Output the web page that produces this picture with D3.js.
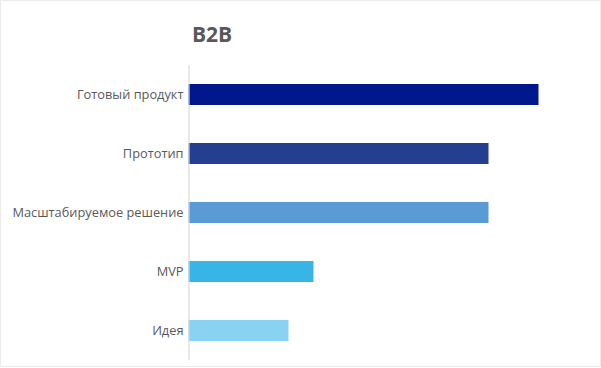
<!DOCTYPE html>
<html>
<head>
<meta charset="utf-8">
<script src="https://cdn.jsdelivr.net/npm/d3@7"></script>
<style>
  html, body { margin: 0; padding: 0; background: #fff; }
  svg { display: block; }
  text { font-family: "Open Sans", "Noto Sans", sans-serif; fill: #595959; }
</style>
</head>
<body>
<div id="chart"></div>
<script>
// data, top to bottom
var categories = ['Готовый продукт', 'Прототип', 'Масштабируемое решение', 'MVP', 'Идея'];
var values = [14, 12, 12, 5, 4];
var colors = ['#00188c', '#243f8f', '#5b9bd5', '#37b5e6', '#89d2f1'];
var title = 'B2B';

var W = 601, H = 368;
var svg = d3.select('#chart').append('svg')
    .attr('width', W).attr('height', H);

// faint outer frame
svg.append('rect')
    .attr('x', 0.5).attr('y', 0.5)
    .attr('width', W - 1).attr('height', H - 2)
    .attr('fill', 'none').attr('stroke', '#ebebeb');

var x = d3.scaleLinear().domain([0, 16]).range([188.5, 588.5]);
var y = d3.scaleBand().domain(categories).range([65, 360]).paddingInner(0.644).paddingOuter(0.322);

svg.append('text')
    .attr('x', 192).attr('y', 42)
    .style('font-size', '21px').style('font-weight', 'bold')
    .text(title);

svg.selectAll('rect.bar')
    .data(categories)
    .enter().append('rect')
    .attr('class', 'bar')
    .attr('x', x(0))
    .attr('y', function (d) { return y(d); })
    .attr('height', y.bandwidth())
    .attr('width', function (d, i) { return x(values[i]) - x(0); })
    .attr('fill', function (d, i) { return colors[i]; });

var yAxis = svg.append('g')
    .attr('transform', 'translate(' + x(0) + ',0)')
    .call(d3.axisLeft(y).tickSize(0).tickPadding(5));
yAxis.select('.domain').attr('stroke', '#d9d9d9').attr('stroke-width', 1.2);
yAxis.selectAll('text')
    .style('font-size', '12.8px')
    .style('font-family', '"Open Sans", "Noto Sans", sans-serif')
    .attr('fill', '#595959');
</script>
</body>
</html>
